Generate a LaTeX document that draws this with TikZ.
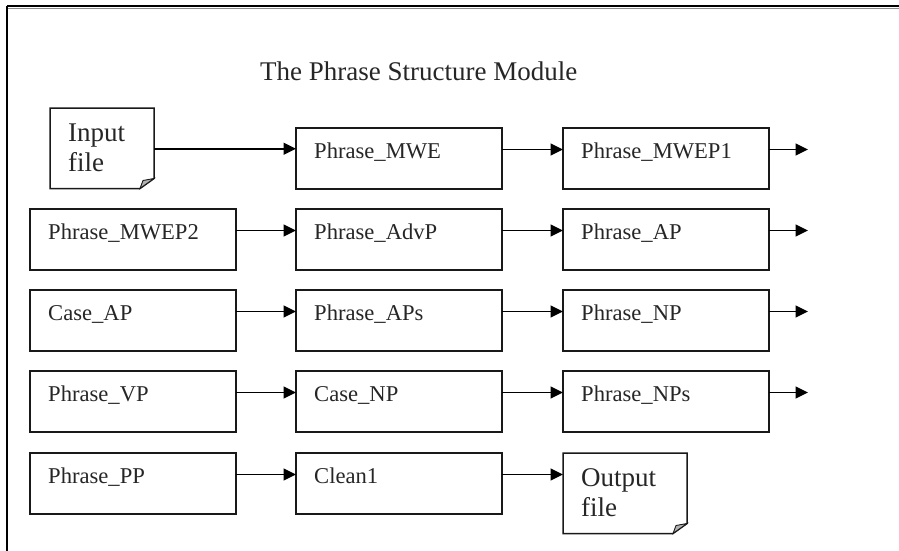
\documentclass[tikz,border=0pt]{standalone}
\usepackage{fontspec}
\setmainfont{Liberation Serif}
\usetikzlibrary{arrows.meta}
\begin{document}
\begin{tikzpicture}[x=1pt,y=-1pt,
  box/.style={draw=black!90, line width=1.5pt, minimum width=206pt, minimum height=61pt, anchor=north west, inner sep=0pt, outer sep=0pt},
  docnode/.style={minimum width=#1, minimum height=80.5pt, anchor=north west, inner sep=0pt, outer sep=0pt},
  lab/.style={anchor=base west, inner sep=0pt, font=\fontsize{22.6}{27}\selectfont, text=black!85},
  doclab/.style={anchor=base west, inner sep=0pt, font=\fontsize{27}{30}\selectfont, text=black!85},
  conn/.style={line width=1.6pt, draw=black, -{Triangle[length=12.5pt,width=12pt]}},
  docline/.style={draw=black!90, line width=1.5pt, line join=miter},
]
\useasboundingbox (0,0) rectangle (899,551);
% outer frame
\draw[line width=1.6pt] (7,6) -- (905,6);
\draw[line width=0.8pt, black!45] (8,8.2) -- (905,8.2);
\draw[line width=1.6pt] (7,6) -- (7,560);

\node[anchor=base, inner sep=0pt, font=\fontsize{27}{30}\selectfont, text=black!85] (title) at (418.7,81) {The Phrase Structure Module};

% boxes
\node[box] (mwe)   at (296,128) {};
\node[box] (mwep1) at (563,128) {};
\node[box] (mwep2) at (30,209) {};
\node[box] (advp)  at (296,209) {};
\node[box] (ap)    at (563,209) {};
\node[box] (caseap) at (30,290) {};
\node[box] (aps)   at (296,290) {};
\node[box] (np)    at (563,290) {};
\node[box] (vp)    at (30,371) {};
\node[box] (casenp) at (296,371) {};
\node[box] (nps)   at (563,371) {};
\node[box] (pp)    at (30,453) {};
\node[box] (clean) at (296,453) {};

% labels
\node[lab] (t-mwe)    at ([shift={(18,30)}]mwe.north west) {Phrase\_MWE};
\node[lab] (t-mwep1)  at ([shift={(18,30)}]mwep1.north west) {Phrase\_MWEP1};
\node[lab] (t-mwep2)  at ([shift={(18,30)}]mwep2.north west) {Phrase\_MWEP2};
\node[lab] (t-advp)   at ([shift={(18,30)}]advp.north west) {Phrase\_AdvP};
\node[lab] (t-ap)     at ([shift={(18,30)}]ap.north west) {Phrase\_AP};
\node[lab] (t-caseap) at ([shift={(18,30)}]caseap.north west) {Case\_AP};
\node[lab] (t-aps)    at ([shift={(18,30)}]aps.north west) {Phrase\_APs};
\node[lab] (t-np)     at ([shift={(18,30)}]np.north west) {Phrase\_NP};
\node[lab] (t-vp)     at ([shift={(18,30)}]vp.north west) {Phrase\_VP};
\node[lab] (t-casenp) at ([shift={(18,30)}]casenp.north west) {Case\_NP};
\node[lab] (t-nps)    at ([shift={(18,30)}]nps.north west) {Phrase\_NPs};
\node[lab] (t-pp)     at ([shift={(18,30)}]pp.north west) {Phrase\_PP};
\node[lab] (t-clean)  at ([shift={(18,30)}]clean.north west) {Clean1};

% documents (folded corner)
\node[docnode=104pt] (in) at (50,108) {};
\node[docnode=124pt] (out) at (563,453) {};
\foreach \d in {in,out}{
  \draw[docline] (\d.north west) -- (\d.north east) -- ([yshift=10pt]\d.south east)
     -- ([xshift=-14pt]\d.south east) -- (\d.south west) -- cycle;
  \filldraw[docline, line width=0.9pt, fill=black!30] ([xshift=-14pt]\d.south east)
     -- ([yshift=10pt]\d.south east) -- ([shift={(-11,-8)}]\d.south east) -- cycle;
}
\node[doclab] (t-in1) at ([shift={(18,33.7)}]in.north west) {Input};
\node[doclab] (t-in2) at ([shift={(18,63.7)}]in.north west) {file};
\node[doclab] (t-out1) at ([shift={(18,33.7)}]out.north west) {Output};
\node[doclab] (t-out2) at ([shift={(18,63.7)}]out.north west) {file};

% free ends
\coordinate (e1) at ([shift={(39,-9)}]mwep1.east);
\coordinate (e2) at ([shift={(39,-9)}]ap.east);
\coordinate (e3) at ([shift={(39,-9)}]np.east);
\coordinate (e4) at ([shift={(39,-9)}]nps.east);

% connectors
\draw[conn] ([yshift=-0.5pt]in.east) -- ([yshift=-0.5pt]in.east -| mwe.west);
\draw[conn] ([yshift=9pt]mwe.east) -- ([yshift=9pt]mwep1.west);
\draw[conn] ([yshift=9pt]mwep1.east) -- (e1);
\draw[conn] ([yshift=9pt]mwep2.east) -- ([yshift=9pt]advp.west);
\draw[conn] ([yshift=9pt]advp.east) -- ([yshift=9pt]ap.west);
\draw[conn] ([yshift=9pt]ap.east) -- (e2);
\draw[conn] ([yshift=9pt]caseap.east) -- ([yshift=9pt]aps.west);
\draw[conn] ([yshift=9pt]aps.east) -- ([yshift=9pt]np.west);
\draw[conn] ([yshift=9pt]np.east) -- (e3);
\draw[conn] ([yshift=9pt]vp.east) -- ([yshift=9pt]casenp.west);
\draw[conn] ([yshift=9pt]casenp.east) -- ([yshift=9pt]nps.west);
\draw[conn] ([yshift=9pt]nps.east) -- (e4);
\draw[conn] ([yshift=9pt]pp.east) -- ([yshift=9pt]clean.west);
\draw[conn] ([yshift=9pt]clean.east) -- ([yshift=9pt]clean.east -| out.west);
\end{tikzpicture}
\end{document}
